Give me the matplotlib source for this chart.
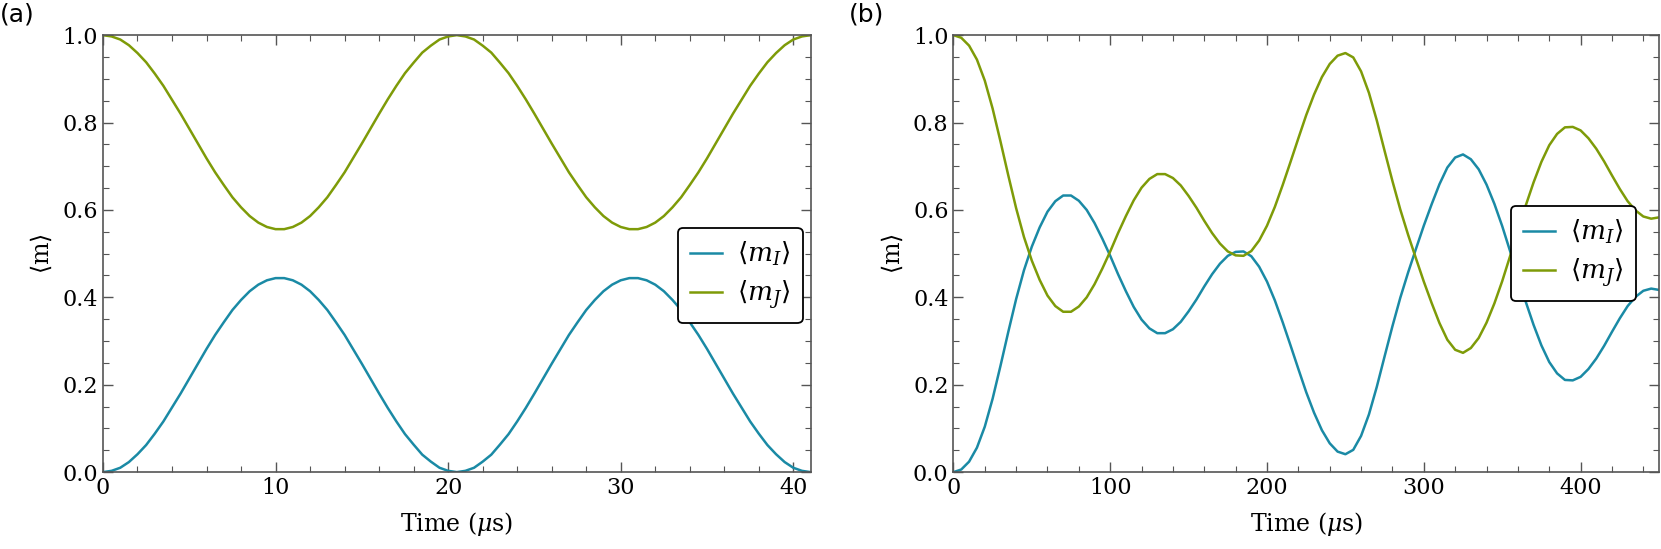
import matplotlib
matplotlib.use("Agg")
import matplotlib.pyplot as plt
from matplotlib.ticker import MultipleLocator

# panel (a): time in us, 0.5 us steps
t_a = [i * 0.5 for i in range(83)]
mI_a = [0.000, 0.003, 0.010, 0.023, 0.041, 0.062, 0.088, 0.116, 0.148, 0.180,
        0.214, 0.248, 0.282, 0.314, 0.343, 0.371, 0.394, 0.414, 0.429, 0.439,
        0.444, 0.444, 0.439, 0.429, 0.414, 0.394, 0.371, 0.343, 0.314, 0.281,
        0.248, 0.214, 0.180, 0.147, 0.116, 0.087, 0.063, 0.040, 0.024, 0.010,
        0.003, 0.000, 0.003, 0.010, 0.024, 0.040, 0.063, 0.087, 0.116, 0.147,
        0.180, 0.214, 0.248, 0.281, 0.314, 0.343, 0.371, 0.394, 0.414, 0.429,
        0.439, 0.444, 0.444, 0.439, 0.429, 0.414, 0.394, 0.371, 0.343, 0.314,
        0.282, 0.248, 0.214, 0.180, 0.148, 0.116, 0.088, 0.062, 0.041, 0.023,
        0.010, 0.003, 0.000]
mJ_a = [1.000, 0.997, 0.990, 0.977, 0.959, 0.938, 0.912, 0.884, 0.852, 0.820,
        0.786, 0.752, 0.718, 0.686, 0.657, 0.629, 0.606, 0.586, 0.571, 0.561,
        0.556, 0.556, 0.561, 0.571, 0.586, 0.606, 0.629, 0.657, 0.686, 0.719,
        0.752, 0.786, 0.820, 0.853, 0.884, 0.913, 0.937, 0.960, 0.976, 0.990,
        0.997, 1.000, 0.997, 0.990, 0.976, 0.960, 0.937, 0.913, 0.884, 0.853,
        0.820, 0.786, 0.752, 0.719, 0.686, 0.657, 0.629, 0.606, 0.586, 0.571,
        0.561, 0.556, 0.556, 0.561, 0.571, 0.586, 0.606, 0.629, 0.657, 0.686,
        0.718, 0.752, 0.786, 0.820, 0.852, 0.884, 0.912, 0.938, 0.959, 0.977,
        0.990, 0.997, 1.000]

# panel (b): 5 us steps
t_b = list(range(0, 451, 5))
mI_b = [0.000, 0.006, 0.024, 0.056, 0.104, 0.168, 0.243, 0.321, 0.396, 0.462,
        0.516, 0.560, 0.596, 0.620, 0.633, 0.633, 0.621, 0.600, 0.570, 0.534,
        0.495, 0.453, 0.414, 0.378, 0.349, 0.329, 0.318, 0.318, 0.327, 0.344,
        0.368, 0.395, 0.425, 0.453, 0.477, 0.495, 0.504, 0.505, 0.494, 0.470,
        0.436, 0.393, 0.343, 0.290, 0.236, 0.183, 0.136, 0.096, 0.066, 0.047,
        0.041, 0.051, 0.083, 0.132, 0.195, 0.265, 0.334, 0.399, 0.457, 0.511,
        0.564, 0.613, 0.659, 0.697, 0.720, 0.727, 0.716, 0.693, 0.658, 0.614,
        0.563, 0.506, 0.447, 0.390, 0.337, 0.290, 0.252, 0.226, 0.211, 0.210,
        0.218, 0.236, 0.260, 0.289, 0.321, 0.352, 0.380, 0.401, 0.415, 0.420,
        0.417]
mJ_b = [1.000, 0.994, 0.976, 0.944, 0.896, 0.832, 0.757, 0.679, 0.604, 0.538,
        0.484, 0.440, 0.404, 0.380, 0.367, 0.367, 0.379, 0.400, 0.430, 0.466,
        0.505, 0.547, 0.586, 0.622, 0.651, 0.671, 0.682, 0.682, 0.673, 0.656,
        0.632, 0.605, 0.575, 0.547, 0.523, 0.505, 0.496, 0.495, 0.506, 0.530,
        0.564, 0.607, 0.657, 0.710, 0.764, 0.817, 0.864, 0.904, 0.934, 0.953,
        0.959, 0.949, 0.917, 0.868, 0.805, 0.735, 0.666, 0.601, 0.543, 0.489,
        0.436, 0.387, 0.341, 0.303, 0.280, 0.273, 0.284, 0.307, 0.342, 0.386,
        0.437, 0.494, 0.553, 0.610, 0.663, 0.710, 0.748, 0.774, 0.789, 0.790,
        0.782, 0.764, 0.740, 0.711, 0.679, 0.648, 0.620, 0.599, 0.585, 0.580,
        0.583]

c_I = "#1a8aa5"
c_J = "#7e9b08"

plt.rcParams["font.family"] = "DejaVu Serif"
plt.rcParams["mathtext.fontset"] = "dejavuserif"

fig = plt.figure(figsize=(16.61, 5.49), dpi=100)
ax_a = fig.add_axes([0.062, 0.140, 0.426, 0.796])
ax_b = fig.add_axes([0.574, 0.140, 0.4248, 0.796])


def style(ax, xmax, xmaj, xmin):
    ax.set_xlim(0, xmax)
    ax.set_ylim(0, 1)
    ax.xaxis.set_major_locator(MultipleLocator(xmaj))
    ax.xaxis.set_minor_locator(MultipleLocator(xmin))
    ax.yaxis.set_major_locator(MultipleLocator(0.2))
    ax.yaxis.set_minor_locator(MultipleLocator(0.05))
    ax.tick_params(which="both", direction="in", top=True, right=True,
                   color="#555555", labelsize=16)
    ax.tick_params(which="major", length=7, width=1)
    ax.tick_params(which="minor", length=4, width=0.8)
    for s in ax.spines.values():
        s.set_color("#555555")
        s.set_linewidth(1.2)
    ax.set_xlabel(r"Time ($\mu$s)", fontsize=17, labelpad=8)
    ax.set_ylabel(r"$\langle$m$\rangle$", fontsize=17, labelpad=6)


def add_legend(ax, x, y):
    leg = ax.legend(loc="center right", bbox_to_anchor=(x, y), fontsize=19,
                    frameon=True, fancybox=True, edgecolor="black", framealpha=1,
                    handlelength=1.2, handletextpad=0.6, borderpad=0.45,
                    labelspacing=0.4, borderaxespad=0.3)
    leg.get_frame().set_linewidth(1.3)


ax_a.plot(t_a, mI_a, color=c_I, lw=1.8, label=r"$\langle m_I\rangle$")
ax_a.plot(t_a, mJ_a, color=c_J, lw=1.8, label=r"$\langle m_J\rangle$")
style(ax_a, 41, 10, 2)
add_legend(ax_a, 1.0, 0.45)

ax_b.plot(t_b, mI_b, color=c_I, lw=1.8, label=r"$\langle m_I\rangle$")
ax_b.plot(t_b, mJ_b, color=c_J, lw=1.8, label=r"$\langle m_J\rangle$")
style(ax_b, 450, 100, 20)
add_legend(ax_b, 0.978, 0.5)

fig.text(0.0, 0.995, "(a)", fontsize=18, family="DejaVu Sans", va="top", ha="left")
fig.text(0.511, 0.995, "(b)", fontsize=18, family="DejaVu Sans", va="top", ha="left")

fig.savefig("out.png", dpi=100)
